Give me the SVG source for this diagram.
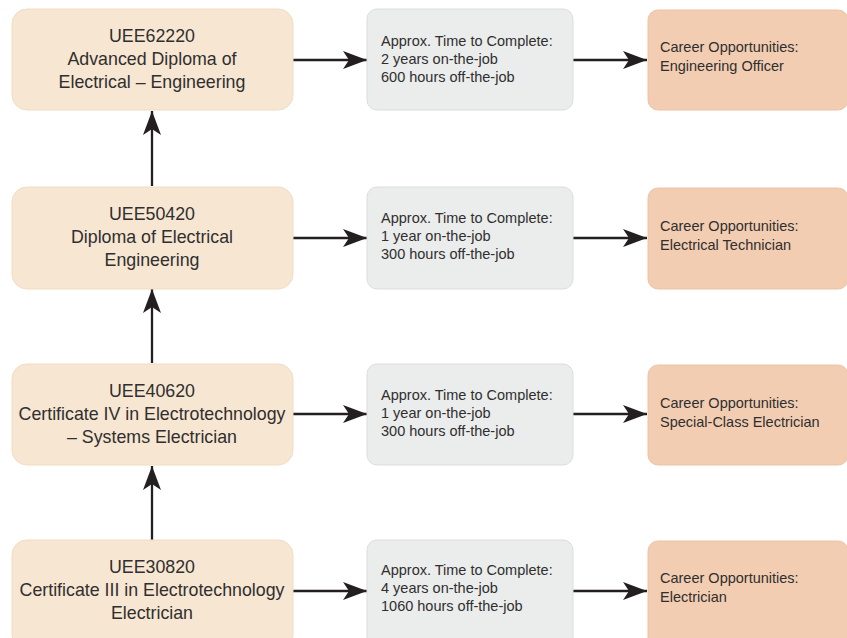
<svg xmlns="http://www.w3.org/2000/svg" width="847" height="638" viewBox="0 0 847 638">
<style>
.q{fill:#f7e6d2;stroke:#f1dcc4;stroke-width:1}
.t{fill:#ebecec;stroke:#dcdddd;stroke-width:1}
.c{fill:#f2cdb2;stroke:#ecc3a6;stroke-width:1}
text{font-family:"Liberation Sans",Arial,sans-serif;fill:#2f2f2f}
.ql{font-size:17.8px;text-anchor:middle}
.sm{font-size:14.5px}
.ln{stroke:#231f20;stroke-width:2.3;fill:none;marker-end:url(#ah)}
</style>
<defs>
<marker id="ah" markerUnits="userSpaceOnUse" markerWidth="26" markerHeight="20" refX="24" refY="10" orient="auto">
<path d="M0,1 L24,10 L0,19 L6,10 Z" fill="#231f20"/>
</marker>
</defs>
<g id="connectors">
<line class="ln" x1="293" y1="60" x2="367" y2="60"/>
<line class="ln" x1="573" y1="60" x2="647" y2="60"/>
<line class="ln" x1="293" y1="238" x2="367" y2="238"/>
<line class="ln" x1="573" y1="238" x2="647" y2="238"/>
<line class="ln" x1="293" y1="414" x2="367" y2="414"/>
<line class="ln" x1="573" y1="414" x2="647" y2="414"/>
<line class="ln" x1="293" y1="591" x2="367" y2="591"/>
<line class="ln" x1="573" y1="591" x2="647" y2="591"/>
<line class="ln" x1="152" y1="186" x2="152" y2="111"/>
<line class="ln" x1="152" y1="363" x2="152" y2="289"/>
<line class="ln" x1="152" y1="540" x2="152" y2="466"/>
</g>
<g id="q1">
<rect class="q" x="12" y="9" width="281" height="101" rx="15"/>
<text class="ql" x="152" y="42">UEE62220</text>
<text class="ql" x="152" y="65">Advanced Diploma of</text>
<text class="ql" x="152" y="88">Electrical – Engineering</text>
</g>
<g id="t1">
<rect class="t" x="367" y="9" width="206" height="101" rx="10"/>
<text class="sm" x="381" y="46">Approx. Time to Complete:</text>
<text class="sm" x="381" y="64">2 years on-the-job</text>
<text class="sm" x="381" y="82">600 hours off-the-job</text>
</g>
<g id="c1">
<rect class="c" x="648" y="10" width="200" height="100" rx="10"/>
<text class="sm" x="660" y="52">Career Opportunities:</text>
<text class="sm" x="660" y="71">Engineering Officer</text>
</g>
<g id="q2">
<rect class="q" x="12" y="187" width="281" height="102" rx="15"/>
<text class="ql" x="152" y="220">UEE50420</text>
<text class="ql" x="152" y="243">Diploma of Electrical</text>
<text class="ql" x="152" y="266">Engineering</text>
</g>
<g id="t2">
<rect class="t" x="367" y="187" width="206" height="102" rx="10"/>
<text class="sm" x="381" y="223">Approx. Time to Complete:</text>
<text class="sm" x="381" y="241">1 year on-the-job</text>
<text class="sm" x="381" y="259">300 hours off-the-job</text>
</g>
<g id="c2">
<rect class="c" x="648" y="188" width="200" height="101" rx="10"/>
<text class="sm" x="660" y="231">Career Opportunities:</text>
<text class="sm" x="660" y="250">Electrical Technician</text>
</g>
<g id="q3">
<rect class="q" x="12" y="364" width="281" height="101" rx="15"/>
<text class="ql" x="152" y="397">UEE40620</text>
<text class="ql" x="152" y="420">Certificate IV in Electrotechnology</text>
<text class="ql" x="152" y="443">– Systems Electrician</text>
</g>
<g id="t3">
<rect class="t" x="367" y="364" width="206" height="101" rx="10"/>
<text class="sm" x="381" y="400">Approx. Time to Complete:</text>
<text class="sm" x="381" y="418">1 year on-the-job</text>
<text class="sm" x="381" y="436">300 hours off-the-job</text>
</g>
<g id="c3">
<rect class="c" x="648" y="365" width="200" height="100" rx="10"/>
<text class="sm" x="660" y="408">Career Opportunities:</text>
<text class="sm" x="660" y="427">Special-Class Electrician</text>
</g>
<g id="q4">
<rect class="q" x="12" y="540" width="281" height="110" rx="15"/>
<text class="ql" x="152" y="573">UEE30820</text>
<text class="ql" x="152" y="596">Certificate III in Electrotechnology</text>
<text class="ql" x="152" y="619">Electrician</text>
</g>
<g id="t4">
<rect class="t" x="367" y="540" width="206" height="110" rx="10"/>
<text class="sm" x="381" y="575">Approx. Time to Complete:</text>
<text class="sm" x="381" y="593">4 years on-the-job</text>
<text class="sm" x="381" y="611">1060 hours off-the-job</text>
</g>
<g id="c4">
<rect class="c" x="648" y="541" width="200" height="110" rx="10"/>
<text class="sm" x="660" y="583">Career Opportunities:</text>
<text class="sm" x="660" y="602">Electrician</text>
</g>
</svg>
